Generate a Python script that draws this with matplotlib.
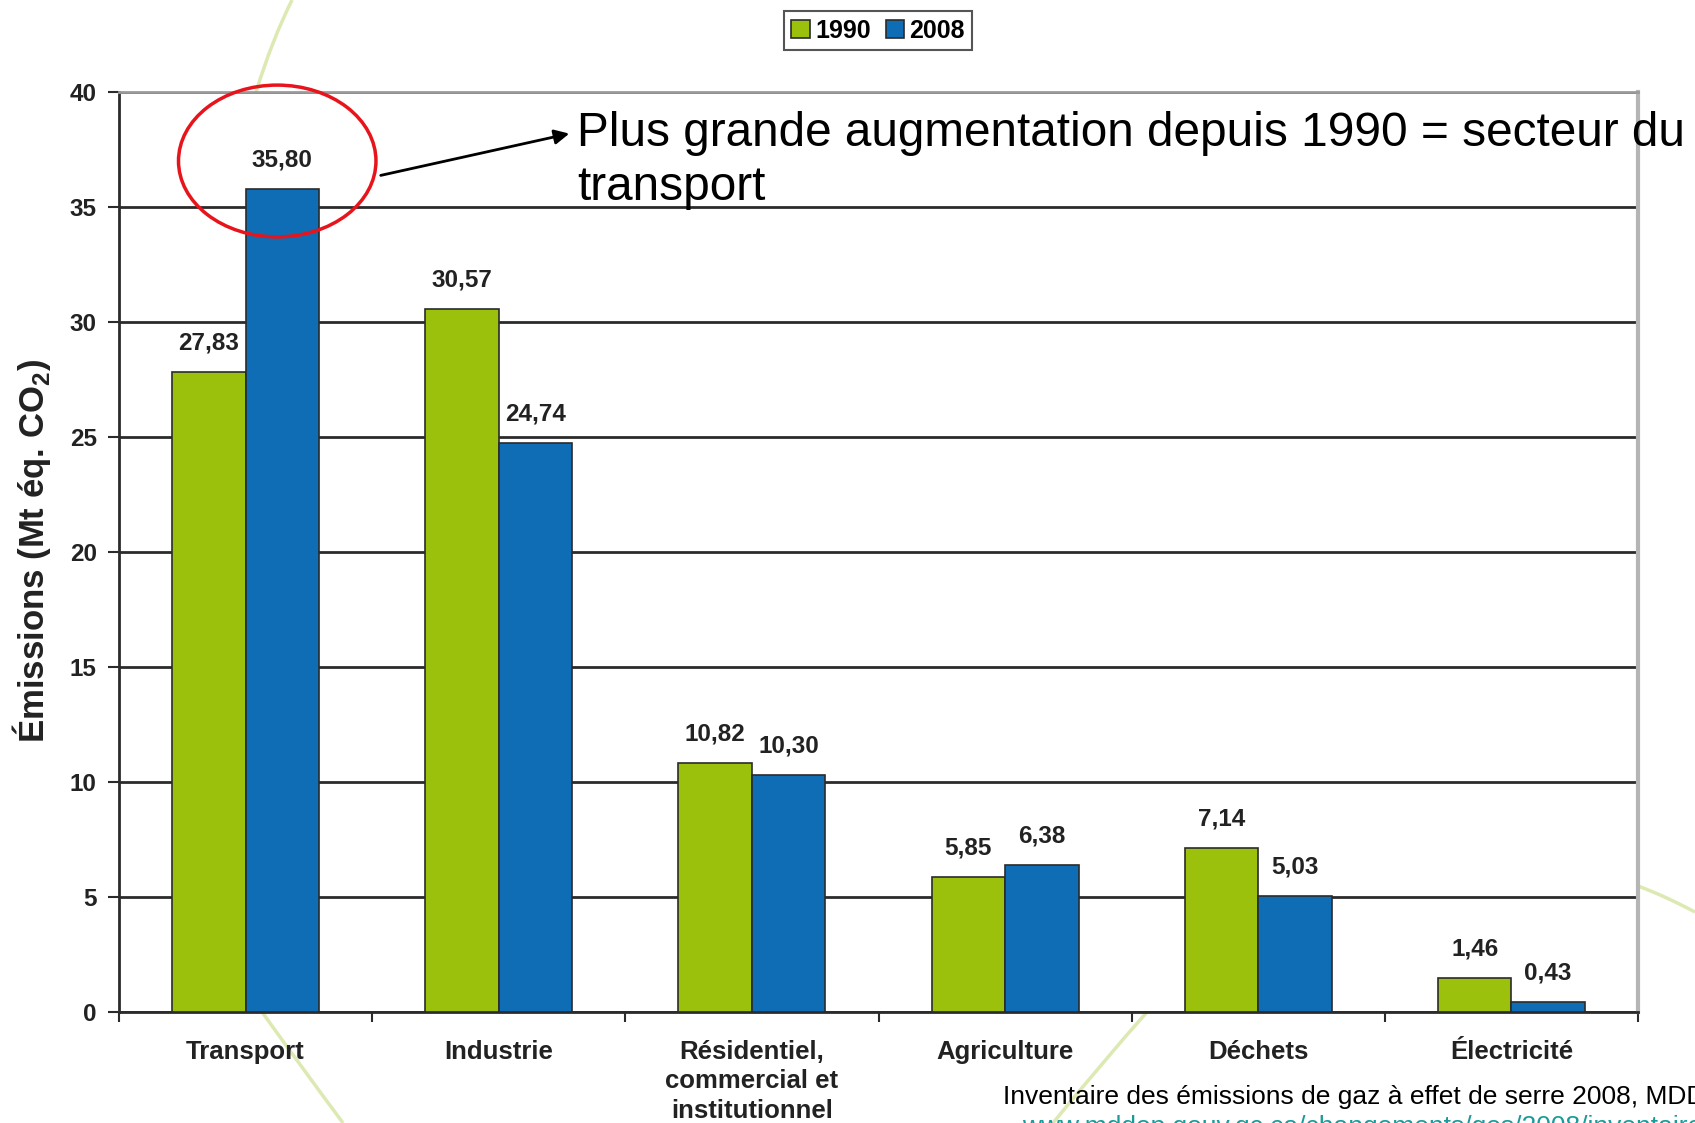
#!/usr/bin/env python3
"""GHG emissions by sector, Quebec 1990 vs 2008 (bar chart with callout)."""

import matplotlib

matplotlib.use("Agg")
import matplotlib.pyplot as plt
import numpy as np
from matplotlib.patches import Ellipse, FancyArrowPatch, Patch, PathPatch
from matplotlib.path import Path as MPath

plt.rcParams["font.family"] = ["Liberation Sans", "DejaVu Sans"]
plt.rcParams["mathtext.fontset"] = "custom"
plt.rcParams["mathtext.rm"] = "Liberation Sans:bold"
plt.rcParams["mathtext.bf"] = "Liberation Sans:bold"

SECTORS = ["Transport", "Industrie", "Résidentiel,\ncommercial et\ninstitutionnel",
           "Agriculture", "Déchets", "Électricité"]
VALUES_1990 = [27.83, 30.57, 10.82, 5.85, 7.14, 1.46]
VALUES_2008 = [35.80, 24.74, 10.30, 6.38, 5.03, 0.43]
YEARS = ["1990", "2008"]
Y_TICKS = [0, 5, 10, 15, 20, 25, 30, 35, 40]

GREEN = "#9cc10d"
BLUE = "#0e6db4"
DARK = "#2b2b2b"
DECOR = "#dde9b2"

W, H = 1695, 1123
fig = plt.figure(figsize=(W / 100, H / 100), dpi=100)


def fx(px):
    return px / W


def fy(py):
    return 1 - py / H


# faint decorative curves from the slide template
for pts in [
    [(292, 0), (272, 40), (256, 92)],
    [(1147, 1012), (1100, 1065), (1053, 1123)],
    [(1638, 886), (1665, 896), (1695, 912)],
    [(262, 1012), (300, 1065), (343, 1123)],
]:
    verts = [(fx(x), fy(y)) for x, y in pts]
    fig.add_artist(PathPatch(MPath(verts, [MPath.MOVETO, MPath.CURVE3, MPath.CURVE3]),
                             transform=fig.transFigure, fill=False,
                             edgecolor=DECOR, lw=2.5, zorder=0))

ax = fig.add_axes([fx(119), fy(1012), fx(1638 - 119), (1012 - 92) / H])
ax.set_facecolor("white")

x = np.arange(len(SECTORS))
bw = 0.29
bars1 = ax.bar(x - bw / 2, VALUES_1990, bw, color=GREEN, edgecolor=DARK, linewidth=1.2, zorder=3)
bars2 = ax.bar(x + bw / 2, VALUES_2008, bw, color=BLUE, edgecolor=DARK, linewidth=1.2, zorder=3)

for bars in (bars1, bars2):
    for b in bars:
        v = b.get_height()
        ax.annotate(f"{v:.2f}".replace(".", ","),
                    (b.get_x() + b.get_width() / 2, v),
                    xytext=(0, 29), textcoords="offset pixels",
                    ha="center", va="center", fontsize=17.5, fontweight="bold",
                    color="#222222")

ax.set_xlim(-0.5, len(SECTORS) - 0.5)
ax.set_ylim(0, 40)
ax.set_yticks(Y_TICKS)
ax.set_yticklabels([str(t) for t in Y_TICKS], fontsize=17.5, fontweight="bold", color="#222222")
ax.yaxis.grid(True, color=DARK, linewidth=2)
ax.set_axisbelow(True)
ax.tick_params(axis="y", length=8, width=1.5, color=DARK, pad=8)

ax.set_xticks(x)
ax.set_xticklabels(SECTORS, fontsize=18.5, fontweight="bold", color="#222222", linespacing=1.3)
ax.set_xticks(np.arange(-0.5, len(SECTORS)), minor=True)
ax.tick_params(axis="x", which="major", length=0, pad=20)
ax.tick_params(axis="x", which="minor", length=7, width=1.5, color=DARK)

for side in ("left", "bottom"):
    ax.spines[side].set_color(DARK)
    ax.spines[side].set_linewidth(2)
ax.spines["top"].set_color("#9a9a9a")
ax.spines["top"].set_linewidth(2)
ax.spines["right"].set_color("#b5b5b5")
ax.spines["right"].set_linewidth(3)

fig.text(fx(32), fy(551), r"Émissions (Mt éq. CO$_\mathbf{2}$)", rotation=90,
         ha="center", va="center", fontsize=25, fontweight="bold", color="#222222")

# legend
handles = [Patch(facecolor=GREEN, edgecolor=DARK, lw=1.2),
           Patch(facecolor=BLUE, edgecolor=DARK, lw=1.2)]
leg = fig.legend(handles, YEARS, loc="upper center", bbox_to_anchor=(fx(878), fy(11)),
                 ncol=2, frameon=True, fancybox=False, shadow=False,
                 prop={"weight": "bold", "size": 18}, handlelength=0.75, handleheight=0.75,
                 handletextpad=0.2, columnspacing=0.6, borderpad=0.3, borderaxespad=0)
leg.get_frame().set_edgecolor(DARK)
leg.get_frame().set_linewidth(1.5)

# highlight the transport 2008 bar
tx = x[0] + bw / 2
ty = VALUES_2008[0] + 1.2
ax.add_patch(Ellipse((tx - 0.02, ty), 0.78, 6.6, fill=False, edgecolor="#e8141b",
                     linewidth=2.5, clip_on=False, zorder=5))

fig.text(fx(577), fy(200), "Plus grande augmentation depuis 1990 = secteur du\ntransport",
         ha="left", va="baseline", fontsize=34.4, color="black", linespacing=1.25)

arrow = FancyArrowPatch((fx(378), fy(176)), (fx(572), fy(133)), transform=fig.transFigure,
                        arrowstyle="-|>", mutation_scale=22, color="black", lw=2)
fig.add_artist(arrow)

fig.text(fx(1003), fy(1104), "Inventaire des émissions de gaz à effet de serre 2008, MDDEP",
         ha="left", va="baseline", fontsize=19, color="black")
fig.text(fx(1022), fy(1115), "www.mddep.gouv.qc.ca/changements/ges/2008/inventaire1990-2008.pdf",
         ha="left", va="top", fontsize=19, color="#1a9b9b")

fig.savefig("out.png", dpi=100)
